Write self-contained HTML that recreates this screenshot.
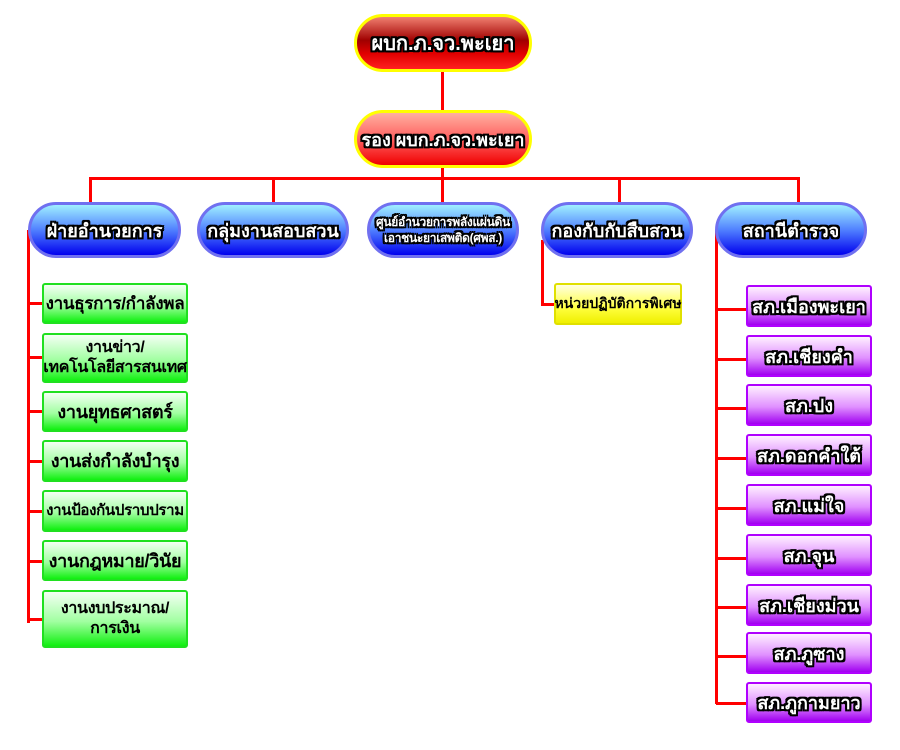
<!DOCTYPE html>
<html><head><meta charset="utf-8"><style>
body{margin:0;width:900px;height:750px;background:#fff;position:relative;overflow:hidden;font-family:"Liberation Sans","Noto Sans CJK SC",sans-serif}
div{position:absolute;box-sizing:border-box}
.l{background:#f00}
.pill{border-radius:30px;display:flex;align-items:center;justify-content:center;text-align:center;color:#fff;font-weight:bold;white-space:nowrap;
text-shadow:-2px -2px 0 #000,2px -2px 0 #000,-2px 2px 0 #000,2px 2px 0 #000,0 2px 0 #000,0 -2px 0 #000,2px 0 0 #000,-2px 0 0 #000}
.red{border:3px solid #ff0;background:linear-gradient(#f08070,#a00000 45%,#e00000 70%,#ff2020)}
.red2{border:3px solid #ff0;background:linear-gradient(#ffb0a0,#ff6060 50%,#f00000)}
.blue{border:3px solid #7070f0;background:linear-gradient(#a0f0ff,#5080ff 50%,#0000ee);font-size:18px}
.g{border:2px solid #20e020;border-radius:3px;background:linear-gradient(#f4fff4,#a0ffa0 55%,#10f010);left:42px;width:146px;display:flex;align-items:center;justify-content:center;text-align:center;font-weight:bold;font-size:17px;color:#000;line-height:20px;white-space:nowrap;letter-spacing:-0.3px}
.p{left:746px;width:126px;height:42px;border:2px solid #b000ff;border-radius:3px;background:linear-gradient(#fff0ff,#e090ff 55%,#a000f0);display:flex;align-items:center;justify-content:center;color:#fff;font-weight:bold;font-size:18px;white-space:nowrap;
text-shadow:-2px -2px 0 #000,2px -2px 0 #000,-2px 2px 0 #000,2px 2px 0 #000,0 2px 0 #000,0 -2px 0 #000,2px 0 0 #000,-2px 0 0 #000}
</style></head><body>
<div class="l" style="left:441px;top:70px;width:3px;height:42px"></div>
<div class="l" style="left:441px;top:166px;width:3px;height:14px"></div>
<div class="l" style="left:89px;top:177px;width:711px;height:3px"></div>
<div class="l" style="left:89px;top:177px;width:3px;height:26px"></div>
<div class="l" style="left:272px;top:177px;width:3px;height:26px"></div>
<div class="l" style="left:441px;top:177px;width:3px;height:26px"></div>
<div class="l" style="left:618px;top:177px;width:3px;height:26px"></div>
<div class="l" style="left:797px;top:177px;width:3px;height:26px"></div>
<div class="l" style="left:27px;top:230px;width:3px;height:393px"></div>
<div class="l" style="left:715px;top:230px;width:3px;height:474px"></div>
<div class="l" style="left:541px;top:240px;width:3px;height:66px"></div>
<div class="l" style="left:541px;top:303px;width:14px;height:3px"></div>
<div class="pill red" style="left:354px;top:14px;width:178px;height:58px;font-size:20px">ผบก.ภ.จว.พะเยา</div>
<div class="pill red2" style="left:354px;top:110px;width:178px;height:58px;font-size:18px">รอง ผบก.ภ.จว.พะเยา</div>
<div class="pill blue" style="left:28px;top:202px;width:153px;height:56px">ฝ่ายอำนวยการ</div>
<div class="pill blue" style="left:197px;top:202px;width:152px;height:56px">กลุ่มงานสอบสวน</div>
<div class="pill blue" style="left:367px;top:202px;width:152px;height:56px;font-size:12px;line-height:16px;letter-spacing:-0.3px">ศูนย์อำนวยการพลังแผ่นดิน<br>เอาชนะยาเสพติด(ศพส.)</div>
<div class="pill blue" style="left:541px;top:202px;width:152px;height:56px">กองกับกับสืบสวน</div>
<div class="pill blue" style="left:715px;top:202px;width:152px;height:56px">สถานีตำรวจ</div>
<div class="l" style="left:28px;top:302px;width:15px;height:3px"></div>
<div class="l" style="left:28px;top:356px;width:15px;height:3px"></div>
<div class="l" style="left:28px;top:410px;width:15px;height:3px"></div>
<div class="l" style="left:28px;top:460px;width:15px;height:3px"></div>
<div class="l" style="left:28px;top:510px;width:15px;height:3px"></div>
<div class="l" style="left:28px;top:560px;width:15px;height:3px"></div>
<div class="l" style="left:28px;top:618px;width:15px;height:3px"></div>
<div class="g" style="top:283px;height:41px">งานธุรการ/กำลังพล</div>
<div class="g" style="top:333px;height:50px;font-size:16px">งานข่าว/<br>เทคโนโลยีสารสนเทศ</div>
<div class="g" style="top:391px;height:41px;font-size:18px">งานยุทธศาสตร์</div>
<div class="g" style="top:440px;height:42px;font-size:18px">งานส่งกำลังบำรุง</div>
<div class="g" style="top:490px;height:42px;font-size:15px">งานป้องกันปราบปราม</div>
<div class="g" style="top:540px;height:41px;font-size:18px">งานกฎหมาย/วินัย</div>
<div class="g" style="top:590px;height:58px;font-size:16px">งานงบประมาณ/<br>การเงิน</div>
<div style="left:554px;top:283px;width:128px;height:42px;border:2px solid #e0e000;border-radius:3px;background:linear-gradient(#ffffe0,#ffff40 60%,#f0f000);display:flex;align-items:center;justify-content:center;font-weight:bold;font-size:14px;white-space:nowrap">หน่วยปฏิบัติการพิเศษ</div>
<div class="l" style="left:716px;top:308px;width:31px;height:3px"></div>
<div class="l" style="left:716px;top:358px;width:31px;height:3px"></div>
<div class="l" style="left:716px;top:407px;width:31px;height:3px"></div>
<div class="l" style="left:716px;top:457px;width:31px;height:3px"></div>
<div class="l" style="left:716px;top:507px;width:31px;height:3px"></div>
<div class="l" style="left:716px;top:557px;width:31px;height:3px"></div>
<div class="l" style="left:716px;top:606px;width:31px;height:3px"></div>
<div class="l" style="left:716px;top:655px;width:31px;height:3px"></div>
<div class="l" style="left:716px;top:702px;width:31px;height:3px"></div>
<div class="p" style="top:285px">สภ.เมืองพะเยา</div>
<div class="p" style="top:335px">สภ.เชียงคำ</div>
<div class="p" style="top:384px">สภ.ปง</div>
<div class="p" style="top:434px">สภ.ดอกคำใต้</div>
<div class="p" style="top:484px">สภ.แม่ใจ</div>
<div class="p" style="top:534px">สภ.จุน</div>
<div class="p" style="top:584px">สภ.เชียงม่วน</div>
<div class="p" style="top:632px">สภ.ภูซาง</div>
<div class="p" style="top:682px;height:41px">สภ.ภูกามยาว</div>
<div style="display:none"></div>
</body></html>
